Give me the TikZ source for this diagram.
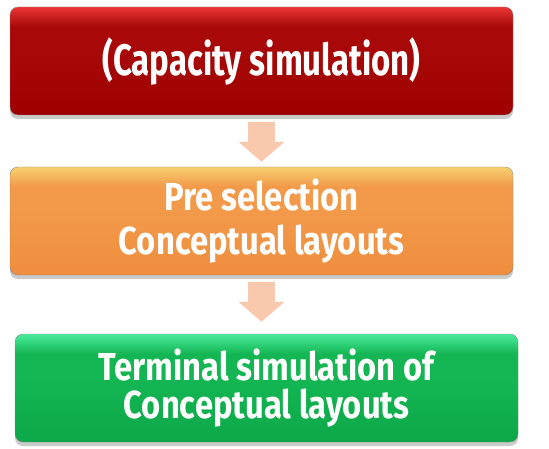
\documentclass[tikz,border=0pt]{standalone}
\usepackage{fontspec}
\setmainfont{Fira Sans}[FakeStretch=0.75]
\newfontfamily\widerfont{Fira Sans}[FakeStretch=0.84]
\usetikzlibrary{arrows.meta,shadows,calc}
\definecolor{rb}{HTML}{9E0000}
\definecolor{rm}{HTML}{A80808}
\definecolor{rt}{HTML}{EC3636}
\definecolor{ob}{HTML}{EF8E3E}
\definecolor{om}{HTML}{F29A4A}
\definecolor{ot}{HTML}{F8D070}
\definecolor{gb}{HTML}{0CA848}
\definecolor{gm}{HTML}{14B654}
\definecolor{gt}{HTML}{4AEC9C}
\definecolor{arr}{HTML}{F9C9AE}
\pgfdeclareverticalshading{redsh}{100bp}{color(0bp)=(rb); color(25bp)=(rb); color(55bp)=(rm); color(66bp)=(rm); color(75bp)=(rt); color(100bp)=(rt)}
\pgfdeclareverticalshading{orsh}{100bp}{color(0bp)=(ob); color(25bp)=(ob); color(55bp)=(om); color(66bp)=(om); color(75bp)=(ot); color(100bp)=(ot)}
\pgfdeclareverticalshading{grsh}{100bp}{color(0bp)=(gb); color(25bp)=(gb); color(55bp)=(gm); color(66bp)=(gm); color(75bp)=(gt); color(100bp)=(gt)}
\tikzset{
  stagebox/.style={rectangle, rounded corners=8pt, minimum width=503pt, minimum height=108pt,
    inner sep=0pt, text=white, align=center, draw=black!45, line width=0.4pt,
    drop shadow={shadow xshift=0pt, shadow yshift=-4pt, opacity=0.35, fill=black!60}},
  flow/.style={draw=arr, line width=27pt, line cap=butt,
    -{Triangle[width=45pt,length=20pt]}}
}
\begin{document}
\begin{tikzpicture}[x=1pt,y=1pt]
\useasboundingbox (0,0) rectangle (549,448);
\node[stagebox, shading=redsh, font=\bfseries\fontsize{44}{48}\selectfont] (b1) at (261.5,387) {(Capacity simulation)};
\node[stagebox, shading=orsh, font=\widerfont\bfseries\fontsize{39}{44}\selectfont] (b2) at (261.5,227) {Pre selection\\Conceptual layouts};
\node[stagebox, shading=grsh, font=\widerfont\bfseries\fontsize{39}{38}\selectfont] (b3) at (266.5,60) {Terminal simulation of\\Conceptual layouts};
\draw[flow] ($(b1.south)+(0,-7)$) -- ($(b2.north)+(0,5)$);
\draw[flow] ($(b2.south)+(0,-7)$) -- ($(b2.south |- b3.north)+(0,12)$);
\end{tikzpicture}
\end{document}
